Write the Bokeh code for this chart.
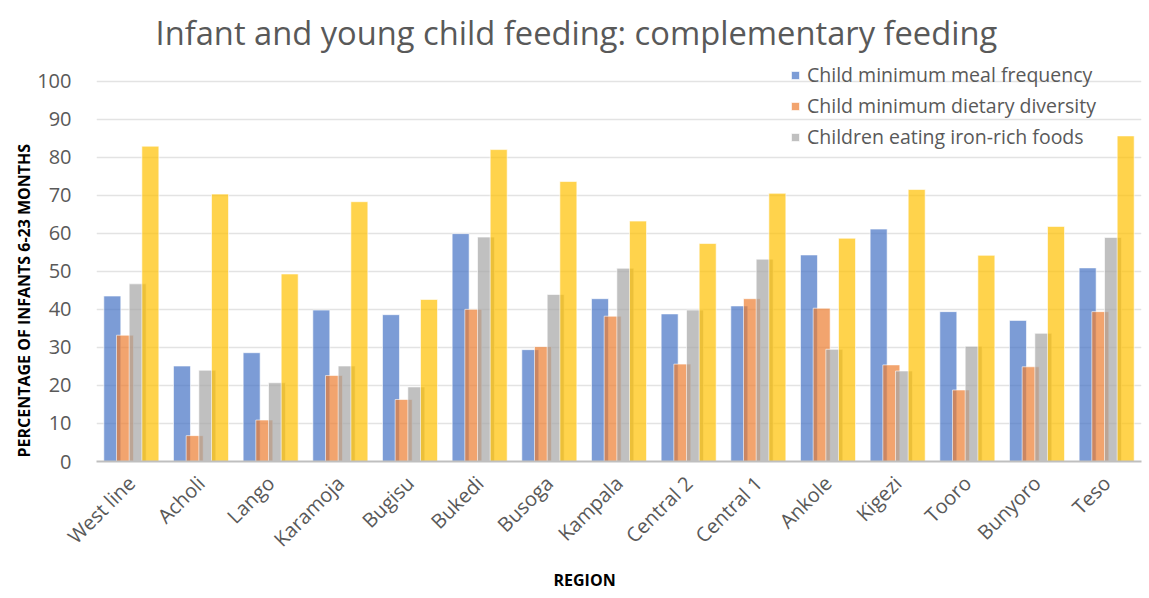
from math import pi
from bokeh.plotting import figure
from bokeh.models import ColumnDataSource, Legend, LegendItem, FixedTicker, Title
from bokeh.transform import dodge
from bokeh.embed import file_html
from bokeh.resources import INLINE

regions = ["West line", "Acholi", "Lango", "Karamoja", "Bugisu", "Bukedi", "Busoga",
           "Kampala", "Central 2", "Central 1", "Ankole", "Kigezi", "Tooro", "Bunyoro", "Teso"]
meal_frequency = [43.5, 25.1, 28.6, 39.8, 38.6, 59.9, 29.4, 42.8, 38.8, 40.9, 54.3, 61.1, 39.4, 37.1, 50.9]
dietary_diversity = [33.2, 6.8, 10.9, 22.6, 16.3, 40.0, 30.2, 38.2, 25.6, 42.8, 40.3, 25.4, 18.8, 24.9, 39.4]
iron_rich = [46.7, 24.0, 20.7, 25.1, 19.6, 59.0, 43.9, 50.8, 39.8, 53.2, 29.5, 23.8, 30.3, 33.7, 58.9]
fourth_series = [82.9, 70.3, 49.3, 68.3, 42.6, 82.0, 73.6, 63.2, 57.3, 70.5, 58.7, 71.5, 54.2, 61.8, 85.6]
y_ticks = [0, 10, 20, 30, 40, 50, 60, 70, 80, 90, 100]

series_names = ["Child minimum meal frequency", "Child minimum dietary diversity",
                "Children eating iron-rich foods"]

source = ColumnDataSource(data=dict(region=regions, meal=meal_frequency, diet=dietary_diversity,
                                    iron=iron_rich, fourth=fourth_series))

FONT = "Open Sans"

p = figure(x_range=regions, y_range=(0, 107), width=1144, height=595,
           output_backend="svg", toolbar_location=None,
           min_border_left=96, min_border_right=3, min_border_top=54, min_border_bottom=134)

p.title.text = "Infant and young child feeding: complementary feeding"
p.title.align = "left"
p.title.offset = 59
p.title.text_font = FONT
p.title.text_font_size = "32.7px"
p.title.text_font_style = "normal"
p.title.text_color = "#595959"
p.title.standoff = 0

cols = ["meal", "diet", "iron", "fourth"]
colors = ["#4472C4", "#ED7D31", "#A5A5A5", "#FFC000"]
offsets = [-0.273, -0.091, 0.091, 0.273]
renderers = []
for c, col, off in zip(cols, colors, offsets):
    r = p.vbar(x=dodge("region", off, range=p.x_range), top=c, width=0.244, source=source,
               fill_color=col, fill_alpha=0.7, line_color="white", line_alpha=0.6, line_width=1)
    renderers.append(r)

legend = Legend(items=[LegendItem(label=n, renderers=[r]) for n, r in zip(series_names, renderers[:3])],
                location=(694, 311))
legend.background_fill_alpha = 0
legend.border_line_color = None
legend.label_text_font = FONT
legend.label_text_font_size = "19.5px"
legend.label_text_color = "#595959"
legend.glyph_width = 10
legend.glyph_height = 10
legend.label_standoff = 7
legend.label_height = 20
legend.spacing = 4
legend.padding = 0
legend.margin = 0
p.add_layout(legend, "center")

p.outline_line_color = None
p.xgrid.grid_line_color = None
p.ygrid.grid_line_color = "#E3E3E3"
p.ygrid.grid_line_width = 1.5
p.yaxis.ticker = FixedTicker(ticks=y_ticks)
p.yaxis.axis_line_color = None
p.yaxis.major_tick_line_color = None
p.yaxis.minor_tick_line_color = None
p.yaxis.major_label_text_font = FONT
p.yaxis.major_label_text_font_size = "20px"
p.yaxis.major_label_text_color = "#595959"
p.yaxis.major_label_standoff = 19

p.xaxis.axis_line_color = "#BFBFBF"
p.xaxis.axis_line_width = 2
p.xaxis.major_tick_line_color = None
p.xaxis.minor_tick_line_color = None
p.xaxis.major_label_orientation = pi / 4
p.xaxis.major_label_text_font = FONT
p.xaxis.major_label_text_font_size = "20px"
p.xaxis.major_label_text_color = "#595959"
p.xaxis.major_label_standoff = 12

ytitle = Title(text="PERCENTAGE OF INFANTS 6-23 MONTHS", align="left", offset=4,
               text_font=FONT, text_font_size="16px", text_font_style="bold",
               text_color="black", standoff=0)
p.add_layout(ytitle, "left")
xtitle = Title(text="REGION", align="left", offset=457,
               text_font=FONT, text_font_size="16px", text_font_style="bold",
               text_color="black", standoff=5)
p.add_layout(xtitle, "below")

open("out.html", "w").write(file_html(p, INLINE))
